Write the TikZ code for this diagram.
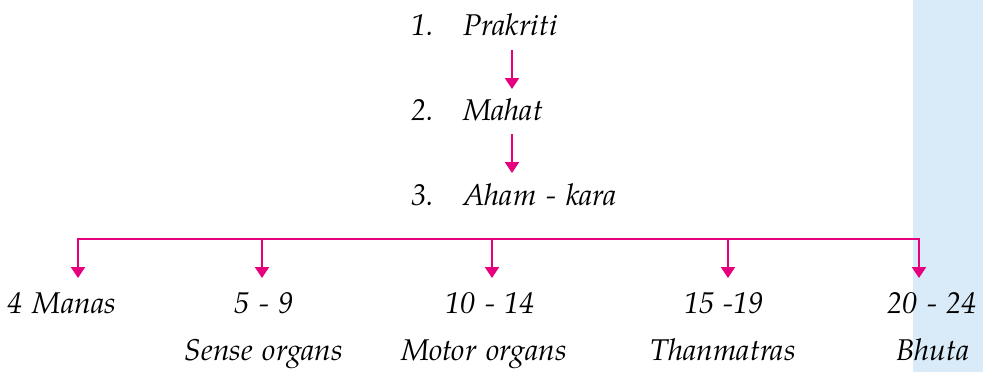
\documentclass[tikz,border=0pt]{standalone}
\usepackage{fontspec}
\setmainfont{TeX Gyre Pagella}[WordSpace=1.3]
\usetikzlibrary{arrows.meta}
\definecolor{mag}{RGB}{230,0,126}
\definecolor{strip}{RGB}{217,234,248}
\begin{document}
\begin{tikzpicture}[x=1pt,y=-1pt,
  lbl/.style={inner sep=0pt, anchor=base west, font=\fontsize{30}{34}\selectfont\itshape},
  clbl/.style={lbl, anchor=base},
  busline/.style={draw=mag, line width=2.2pt},
  conn/.style={draw=mag, line width=2.2pt, -{Triangle[width=14pt,length=11pt]}}]
\useasboundingbox (0,0) rectangle (983,372);
\fill[strip] (913,0) rectangle (983,372);
% top chain
\node[lbl] (n1) at (411,35) {1.};
\node[lbl] (prak) at (463,35) {Prakriti};
\node[lbl] (n2) at (411,120) {2.};
\node[lbl] (mahat) at (463,120) {Mahat};
\node[lbl] (n3) at (411,205) {3.};
\node[lbl] (aham) at (463,205) {Aham - kara};
\coordinate (a1s) at (512,50);
\coordinate (a1e) at (512,89);
\coordinate (a2s) at (512,134);
\coordinate (a2e) at (512,173);
\draw[conn] (a1s) -- (a1e);
\draw[conn] (a2s) -- (a2e);
% bus
\coordinate (b1) at (78,239);
\coordinate (b2) at (262,239);
\coordinate (b3) at (492,239);
\coordinate (b4) at (728,239);
\coordinate (b5) at (919,239);
\coordinate (t1) at (78,278);
\coordinate (t2) at (262,278);
\coordinate (t3) at (492,278);
\coordinate (t4) at (728,278);
\coordinate (t5) at (919,278);
\draw[busline, line cap=rect] (b1) -- (b5);
\foreach \i in {1,...,5} \draw[conn] (b\i) -- (t\i);
% bottom labels
\node[clbl] (manas) at (62,313) {4 Manas};
\node[clbl] (r2) at (264,313) {5 - 9};
\node[clbl] (r3) at (490,313) {10 - 14};
\node[clbl] (r4) at (724,313) {15 -19};
\node[clbl] (r5) at (932,313) {20 - 24};
\node[clbl] (sense) at (264,360) {Sense organs};
\node[clbl] (motor) at (484,360) {Motor organs};
\node[clbl] (than) at (723,360) {Thanmatras};
\node[clbl] (bhuta) at (933,360) {Bhuta};
\end{tikzpicture}
\end{document}
